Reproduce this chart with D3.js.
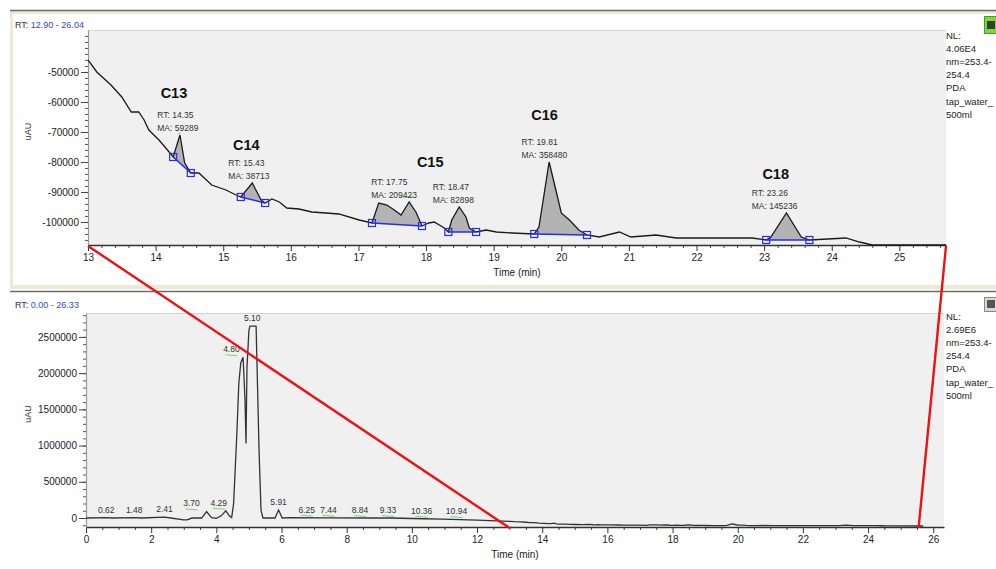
<!DOCTYPE html>
<html><head><meta charset="utf-8">
<script src="https://cdn.jsdelivr.net/npm/d3@7"></script>
<style>
body{margin:0;background:#fff}
svg{display:block;font-family:"Liberation Sans",Arial,sans-serif}
</style></head>
<body><svg id="c" width="996" height="569"></svg>
<script>
// ---------- DATA ----------
// Zoomed trace (top panel), time in min, signal in uAU
const topTime = [13.00,13.13,13.34,13.50,13.64,13.75,13.83,13.90,14.05,14.20,14.26,14.36,14.43,14.52,14.64,14.72,14.83,15.04,15.19,15.26,15.43,15.56,15.62,15.72,15.83,15.94,16.12,16.31,16.52,16.71,17.01,17.20,17.30,17.42,17.53,17.63,17.75,17.85,17.94,18.04,18.12,18.27,18.33,18.38,18.49,18.59,18.64,18.74,18.89,19.04,19.27,19.60,19.67,19.82,19.92,20.00,20.12,20.26,20.38,20.56,20.86,21.03,21.40,21.70,22.44,22.82,23.03,23.10,23.33,23.55,23.67,24.21,24.41,24.60,24.70,25.69];
const topSignal = [-46000,-50000,-54333,-58333,-63333,-63333,-66000,-69333,-72667,-76667,-78333,-71000,-80333,-83667,-83667,-85333,-87667,-89333,-91000,-91667,-87000,-92667,-93667,-92333,-93333,-95333,-95667,-96667,-97000,-97333,-99333,-100333,-93667,-94333,-96000,-97667,-93333,-96667,-101333,-100333,-100000,-102000,-103333,-99333,-95000,-98333,-102000,-103333,-102667,-103333,-103667,-104000,-101667,-80000,-89333,-97000,-99333,-102667,-104333,-105000,-103333,-105000,-104333,-105333,-105333,-105333,-106000,-105000,-97000,-105000,-106000,-105333,-106667,-107667,-109000,-110000];

// Early part of the full trace (bottom panel), t < 13 min
const lowTime = [0.00,0.62,0.80,1.48,1.70,2.41,2.60,3.00,3.10,3.25,3.55,3.70,3.85,4.00,4.15,4.29,4.40,4.47,4.53,4.63,4.69,4.75,4.82,4.88,4.91,4.94,5.00,5.03,5.22,5.25,5.31,5.37,5.43,5.80,5.91,6.02,6.25,7.44,8.84,9.33,10.36,10.94,12.00];
const lowSignal = [0,5000,0,5000,0,12000,0,-25000,-25000,0,0,90000,5000,-5000,30000,100000,30000,5000,200000,1170000,1860000,2140000,2220000,1630000,1030000,2080000,2590000,2650000,2650000,2080000,940000,110000,0,0,110000,0,5000,3000,0,0,-10000,-15000,-30000];

// Integrated peaks in the zoomed view
const peakRT    = [14.35, 15.43, 17.75, 18.47, 19.81, 23.26];
const peakMA    = [59289, 38713, 209423, 82898, 358480, 145236];
const peakStart = [14.26, 15.26, 17.20, 18.33, 19.60, 23.03];
const peakEnd   = [14.52, 15.62, 17.94, 18.74, 20.38, 23.67];
const peakTop   = [-71000, -87000, -93333, -95000, -80000, -97000];

const compoundNames = ["C13","C14","C15","C16","C18"];
const compoundRT    = [14.36, 15.43, 18.15, 19.84, 23.26];

// Labelled peaks in the full view
const lowPeakRT     = [0.62,1.48,2.41,3.70,4.29,4.80,5.10,5.91,6.25,7.44,8.84,9.33,10.36,10.94];
const lowPeakHeight = [0,0,10000,90000,100000,2220000,2650000,110000,5000,3000,0,0,-10000,-15000];

// Tick values
const topXTicks = d3.range(13, 26, 1);
const topYTicks = [-50000,-60000,-70000,-80000,-90000,-100000];
const botXTicks = d3.range(0, 27, 2);
const botYTicks = [0,500000,1000000,1500000,2000000,2500000];

const topInfo = ["NL:","4.06E4","nm=253.4-","254.4","PDA","tap_water_","500ml"];
const botInfo = ["NL:","2.69E6","nm=253.4-","254.4","PDA","tap_water_","500ml"];
const topRange = "12.90 - 26.04";
const botRange = "0.00 - 26.33";

// ---------- LAYOUT (pixels) ----------
const peakLabelDx   = [-22,-24,-38,-25,-27,-30];
const nameGap       = [20,16,23,25,17];   // name baseline above RT line
const nameRef       = [0,1,3,4,5];        // which RT label each name sits above
const lowLabelDx    = [0,0,0,-15,-7,-11,0,0,17,0,-14,-2,-2,14];

const svg = d3.select("#c");

// ---------- FRAMES ----------
svg.append("rect").attr("x",10).attr("y",11).attr("width",990).attr("height",278).attr("fill","#ece9d8");
svg.append("rect").attr("x",13).attr("y",14).attr("width",990).attr("height",271).attr("fill","#fff");
svg.append("line").attr("x1",10).attr("x2",996).attr("y1",10.5).attr("y2",10.5).attr("stroke","#6b6b6b").attr("stroke-width",1.5);
svg.append("line").attr("x1",10).attr("x2",996).attr("y1",291.5).attr("y2",291.5).attr("stroke","#6b6b6b").attr("stroke-width",1.5);

// icons
svg.append("rect").attr("x",984.5).attr("y",16.5).attr("width",12).attr("height",17).attr("fill","#7bd83c").attr("stroke","#4a9a22");
svg.append("rect").attr("x",987).attr("y",21).attr("width",8).attr("height",8).attr("fill","#3a3a3a");
svg.append("rect").attr("x",984.5).attr("y",297.5).attr("width",12).attr("height",14).attr("fill","#d8d8d8").attr("stroke","#888");
svg.append("rect").attr("x",987).attr("y",300).attr("width",8).attr("height",8).attr("fill","#555");

function rtHeader(y, txt){
  const t = svg.append("text").attr("x",15).attr("y",y).attr("font-size",9).attr("fill","#333");
  t.append("tspan").text("RT: ");
  t.append("tspan").attr("fill","#2f49c8").text(txt);
}
rtHeader(28, topRange);
rtHeader(308, botRange);

function infoBlock(lines, y0){
  svg.append("g").selectAll("text").data(lines).join("text")
    .attr("x",946).attr("y",(d,i)=>y0 + i*13.1).attr("font-size",9.5).attr("fill","#222").text(d=>d);
}
infoBlock(topInfo, 39);
infoBlock(botInfo, 320);

// ---------- PANEL HELPER ----------
function panel(o){
  const g = svg.append("g");
  g.append("rect").attr("x",o.x0).attr("y",o.y0).attr("width",o.x1-o.x0).attr("height",o.y1-o.y0).attr("fill","#f0f0f0");
  g.append("line").attr("x1",o.x0).attr("x2",o.x1).attr("y1",o.y0+0.5).attr("y2",o.y0+0.5).attr("stroke","#d4d4d4");
  const clipId = "clip"+o.id;
  svg.append("clipPath").attr("id",clipId).append("rect").attr("x",o.x0).attr("y",o.y0).attr("width",o.x1-o.x0).attr("height",o.y1-o.y0+1);

  const gx = g.append("g").attr("transform",`translate(0,${o.y1})`);
  gx.call(d3.axisBottom(o.xs).tickValues(o.xMinor).tickSize(3).tickFormat(""))
    .call(s=>s.select(".domain").remove());
  gx.selectAll("line").attr("stroke","#444");
  const gx2 = g.append("g").attr("transform",`translate(0,${o.y1})`);
  gx2.call(d3.axisBottom(o.xs).tickValues(o.xTicks).tickSize(6).tickPadding(3).tickFormat(d3.format("d")).tickSizeOuter(0));
  gx2.select(".domain").attr("stroke","#333").attr("stroke-width",1.6);
  gx2.selectAll("line").attr("stroke","#333");
  gx2.selectAll("text").attr("font-size",10).attr("fill","#222").attr("font-family","Liberation Sans, Arial, sans-serif");

  const gy = g.append("g").attr("transform",`translate(${o.x0},0)`);
  gy.call(d3.axisLeft(o.ys).tickValues(o.yMinor).tickSize(3).tickFormat(""))
    .call(s=>s.select(".domain").remove());
  gy.selectAll("line").attr("stroke","#555");
  const gy2 = g.append("g").attr("transform",`translate(${o.x0},0)`);
  gy2.call(d3.axisLeft(o.ys).tickValues(o.yTicks).tickSize(7).tickPadding(2).tickFormat(d=>String(d)).tickSizeOuter(0));
  gy2.select(".domain").attr("stroke","#999").attr("stroke-width",1.2);
  gy2.selectAll("line").attr("stroke","#444");
  gy2.selectAll("text").attr("font-size",10).attr("fill","#222").attr("font-family","Liberation Sans, Arial, sans-serif");

  g.append("text").attr("transform",`translate(${o.labelX},${(o.y0+o.y1)/2-6}) rotate(-90)`)
    .attr("text-anchor","middle").attr("font-size",9).attr("fill","#333").text("uAU");
  g.append("text").attr("x",o.timeX).attr("y",o.timeY).attr("text-anchor","middle")
    .attr("font-size",10).attr("fill","#222").text("Time (min)");
  return {g, clip:`url(#${clipId})`};
}

// ---------- TOP PANEL ----------
const xT = d3.scaleLinear().domain([13, 25.69]).range([88, 946]);
const yT = d3.scaleLinear().domain([-107667, -36000]).range([245, 30]);
const topP = panel({id:"t", x0:88, x1:946, y0:30, y1:245, xs:xT, ys:yT,
  xTicks: topXTicks, xMinor: d3.range(13, 25.7, 0.2).filter(v=>Math.abs(v-Math.round(v))>0.01),
  yTicks: topYTicks, yMinor: d3.range(-106000, -37000, 2000),
  labelX: 31, timeX: 517, timeY: 276});

const topPts = topTime.map((t,i)=>[t, topSignal[i]]);
const clampY = v => Math.max(v, yT.domain()[0]);

// integrated areas
const pg = topP.g.append("g").attr("clip-path",topP.clip);
peakStart.forEach((s,k)=>{
  const e = peakEnd[k];
  const seg = topPts.filter(p=>p[0]>=s-1e-9 && p[0]<=e+1e-9);
  const poly = seg.map(p=>[xT(p[0]), yT(p[1])]);
  pg.append("path").attr("d", d3.line()(poly)+"Z").attr("fill","#b3b3b3").attr("stroke","none");
});
// trace
pg.append("path").datum(topPts)
  .attr("d", d3.line().x(p=>xT(p[0])).y(p=>yT(clampY(p[1]))))
  .attr("fill","none").attr("stroke","#1a1a1a").attr("stroke-width",1.3);
// baselines & markers
peakStart.forEach((s,k)=>{
  const e = peakEnd[k];
  const vs = topSignal[topTime.indexOf(s)], ve = topSignal[topTime.indexOf(e)];
  pg.append("line").attr("x1",xT(s)).attr("y1",yT(vs)).attr("x2",xT(e)).attr("y2",yT(ve))
    .attr("stroke","#2a2aee").attr("stroke-width",1.5);
  [[s,vs],[e,ve]].forEach(p=>{
    pg.append("rect").attr("x",xT(p[0])-3.5).attr("y",yT(p[1])-3.5).attr("width",7).attr("height",7)
      .attr("fill","none").attr("stroke","#2a2aee").attr("stroke-width",1.2);
  });
});
// green apex marks
[0,2].forEach(k=>{
  const x = xT(peakRT[k]), y = yT(peakTop[k]);
  pg.append("line").attr("x1",x-(k?8:1)).attr("x2",x+(k?4:1)).attr("y1",y-(k?5:1)).attr("y2",y-(k?5:2))
    .attr("stroke","#6fcf6f").attr("stroke-width",1.2);
});

// peak labels
const lab = topP.g.append("g");
const rtBase = peakRT.map((rt,k)=> yT(peakTop[k]) - 4 - 13);
peakRT.forEach((rt,k)=>{
  const x = xT(rt) + peakLabelDx[k];
  const yMA = yT(peakTop[k]) - 4;
  lab.append("text").attr("x",x).attr("y",yMA-13).attr("font-size",8.5).attr("fill","#333").text("RT: "+rt.toFixed(2));
  lab.append("text").attr("x",x).attr("y",yMA).attr("font-size",8.5).attr("fill","#333").text("MA: "+peakMA[k]);
});
compoundNames.forEach((n,i)=>{
  lab.append("text").attr("x",xT(compoundRT[i])-6).attr("y",rtBase[nameRef[i]]-nameGap[i])
    .attr("text-anchor","middle").attr("font-size",14.5).attr("font-weight","bold").attr("fill","#111").text(n);
});

// ---------- BOTTOM PANEL ----------
const xB = d3.scaleLinear().domain([0, 26.33]).range([86, 944]);
const yB = d3.scaleLinear().domain([-124000, 2830000]).range([527, 313]);
const botP = panel({id:"b", x0:86, x1:944, y0:313, y1:527, xs:xB, ys:yB,
  xTicks: botXTicks, xMinor: d3.range(0, 26.4, 0.5).filter(v=>v%2!==0),
  yTicks: botYTicks, yMinor: d3.range(-100000, 2830000, 100000),
  labelX: 31, timeX: 515, timeY: 558});

const fullPts = lowTime.map((t,i)=>[t, lowSignal[i]]).concat(topPts);
const bg = botP.g.append("g").attr("clip-path",botP.clip);
bg.append("path").datum(fullPts)
  .attr("d", d3.line().x(p=>xB(p[0])).y(p=>yB(p[1])))
  .attr("fill","none").attr("stroke","#333").attr("stroke-width",1.3);

const bl = botP.g.append("g");
lowPeakRT.forEach((rt,k)=>{
  const x = xB(rt) + lowLabelDx[k];
  const y = yB(lowPeakHeight[k]) - 5;
  bl.append("text").attr("x",x).attr("y",y).attr("text-anchor","middle").attr("font-size",8.5).attr("fill","#333").text(rt.toFixed(2));
  if (lowLabelDx[k] !== 0 || k>=8) {
    bl.append("line").attr("x1",x-6).attr("x2",x+6).attr("y1",y+2.5).attr("y2",y+3.5)
      .attr("stroke","#7fd07f").attr("stroke-width",1);
  }
});

// ---------- ZOOM CONNECTOR LINES ----------
const zoomFrom = [13, 25.69];
const zoomTo   = [13, 25.55];
zoomFrom.forEach((t,i)=>{
  svg.append("line").attr("x1",xT(t)).attr("y1",246).attr("x2",xB(zoomTo[i])).attr("y2",528)
    .attr("stroke","#ee1111").attr("stroke-width",2.4);
});
</script>
</body></html>
